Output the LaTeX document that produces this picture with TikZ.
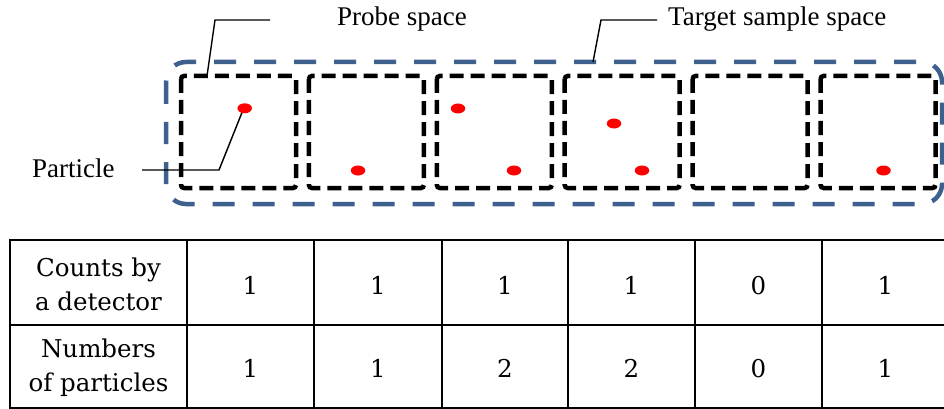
\documentclass[tikz,border=0pt]{standalone}
\usepackage{fontspec}
\usetikzlibrary{shapes.geometric}
\newfontfamily\labelfont{Liberation Serif}
\newfontfamily\cellfont{DejaVu Serif}
\definecolor{spaceblue}{RGB}{62,96,143}
\definecolor{dotred}{RGB}{255,0,0}
\begin{document}
\begin{tikzpicture}[x=1pt,y=-1pt,
  probebox/.style={draw=black,line width=4.5pt,dash pattern=on 14pt off 7pt,rounded corners=3pt},
  samplebox/.style={draw=spaceblue,line width=4.5pt,dash pattern=on 22pt off 18pt,rounded corners=20pt},
  dot/.style={ellipse,fill=dotred,minimum width=14.5pt,minimum height=10pt,inner sep=0pt},
  leader/.style={draw=black,line width=1.4pt},
  lab/.style={font=\labelfont\fontsize{27}{32}\selectfont,inner sep=0pt},
  tableline/.style={draw=black,line width=2.7pt},
  cell/.style={font=\cellfont\fontsize{24.5}{34}\selectfont,inner sep=0pt,align=center}]
\useasboundingbox (0,0) rectangle (944,409);

% target sample space
\draw[samplebox] (166,62) rectangle (942,204);

% probe spaces
\foreach \i in {0,...,5}{
  \draw[probebox] ({181+127.9*\i},76) rectangle ({296+127.9*\i},188);
}

% callout lines (drawn under the particles)
\coordinate (probeEnd) at (270,20);
\coordinate (probeKnee) at (215,20);
\coordinate (probeFoot) at (207,76);
\coordinate (targetEnd) at (657,20);
\coordinate (targetKnee) at (601,20);
\coordinate (targetFoot) at (593,62);
\coordinate (partStart) at (142,170);
\coordinate (partKnee) at (219,170);
\coordinate (partFoot) at (243,110);
\draw[leader] (probeEnd) -- (probeKnee) -- (probeFoot);
\draw[leader] (targetEnd) -- (targetKnee) -- (targetFoot);
\draw[leader] (partStart) -- (partKnee) -- (partFoot);

% particles
\node[dot] (p1) at (244.7,108.3) {};
\node[dot] (p2) at (358,170.5) {};
\node[dot] (p3) at (458,108.5) {};
\node[dot] (p4) at (514,170.5) {};
\node[dot] (p5) at (614,123.5) {};
\node[dot] (p6) at (642,170.5) {};
\node[dot] (p7) at (883.5,170.5) {};

% labels
\node[lab,anchor=base west] (probe) at (337,26) {Probe space};
\node[lab,anchor=base west] (target) at (668,26) {Target sample space};
\node[lab,anchor=base west] (plabel) at (32,177) {Particle};

% table
\draw[tableline] (10,240) rectangle (965,408);
\draw[tableline] (10,325) -- (965,325);
\foreach \x in {187,314,442,568,695,822}{
  \draw[tableline] (\x,240) -- (\x,408);
}
\node[cell] (h1) at (98.5,284) {Counts by\\a detector};
\node[cell] (h2) at (98.5,368) {Numbers\\of particles};
\foreach \c/\x/\a/\b in {1/250.5/1/1,2/378/1/1,3/505/1/2,4/631.5/1/2,5/758.5/0/0,6/885.5/1/1}{
  \node[cell,anchor=base] (c\c) at (\x,294) {\a};
  \node[cell,anchor=base] (n\c) at (\x,377.5) {\b};
}
\end{tikzpicture}
\end{document}
